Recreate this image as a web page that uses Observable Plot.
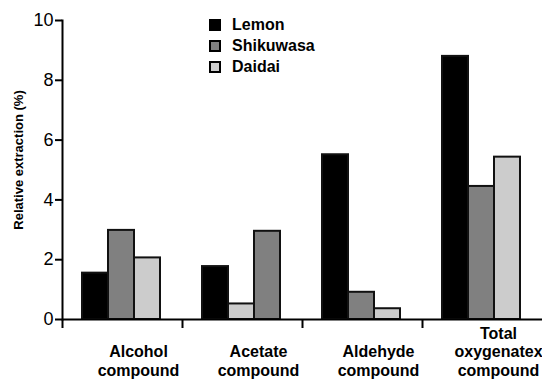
<!DOCTYPE html>
<html>
<head>
<meta charset="utf-8">
<script src="https://cdn.jsdelivr.net/npm/d3@7"></script>
<script src="https://cdn.jsdelivr.net/npm/@observablehq/plot@0.6"></script>
<style>
  html, body { margin: 0; padding: 0; background: #fff; }
  #wrap { position: relative; width: 542px; height: 379px; }
  #legend { position: absolute; left: 209px; top: 14px; font-family: "Liberation Sans", Arial, sans-serif; font-size: 16px; font-weight: bold; color: #000; }
  #legend .row { display: flex; align-items: center; height: 21px; }
  #legend .sw { width: 8px; height: 8px; border: 2px solid #000; margin-right: 11px; box-sizing: content-box; }
</style>
</head>
<body>
<div id="wrap"><div id="legend"></div></div>
<script>
// ---- data ----
const groups = ["Alcohol\ncompound", "Acetate\ncompound", "Aldehyde\ncompound", "Total\noxygenatex\ncompound"];
const series = ["Lemon", "Shikuwasa", "Daidai"];
const lemon     = [1.55, 1.77, 5.51, 8.80];
const shikuwasa = [2.98, 2.95, 0.91, 4.45];
const daidai    = [2.06, 0.52, 0.36, 5.43];
// order of the bars inside each group, as drawn in the original
const barOrder = [
  ["Lemon", "Shikuwasa", "Daidai"],
  ["Lemon", "Daidai", "Shikuwasa"],
  ["Lemon", "Shikuwasa", "Daidai"],
  ["Lemon", "Shikuwasa", "Daidai"]
];
const yTicks = [0, 2, 4, 6, 8, 10];
const colors = ["#000000", "#808080", "#cccccc"];

const values = {Lemon: lemon, Shikuwasa: shikuwasa, Daidai: daidai};
const rows = [];
groups.forEach((g, gi) => {
  series.forEach(s => {
    rows.push({group: g, series: s, slot: barOrder[gi].indexOf(s), value: values[s][gi]});
  });
});

const FONT = "'Liberation Sans', Arial, sans-serif";
const W = 542, H = 379, ML = 62, MR = 0, MT = 20, MB = 60;
const halfBand = (W - ML - MR) / groups.length / 2;

const chart = Plot.plot({
  width: W, height: H,
  marginLeft: ML, marginRight: MR, marginTop: MT, marginBottom: MB,
  style: {fontFamily: FONT, fontSize: "18px", color: "#000", background: "#fff"},
  fx: {domain: groups, paddingInner: 0, paddingOuter: 0, axis: null},
  x: {domain: [0, 1, 2], paddingInner: 0, paddingOuter: 0.76, align: 0.48, axis: null},
  y: {domain: [0, 10], ticks: yTicks, tickSize: 7, tickPadding: 2, label: null},
  color: {domain: series, range: colors},
  marks: [
    Plot.barY(rows, {fx: "group", x: "slot", y: "value", fill: "series", stroke: "#111", strokeWidth: 2}),
    Plot.ruleY([0], {stroke: "#000", strokeWidth: 2}),
    Plot.frame({anchor: "left", fx: () => groups[0], stroke: "#000", strokeWidth: 2}),
    Plot.axisY({ticks: yTicks, tickSize: 7, tickPadding: 2, strokeWidth: 2, label: null, fontFamily: FONT, fontSize: 18}),
    Plot.axisFx({anchor: "bottom", tickSize: 9, strokeWidth: 2, dx: -halfBand, tickFormat: () => "", label: null}),
    Plot.text(groups, {fx: d => d, text: d => d, frameAnchor: "bottom", lineAnchor: "bottom", dy: 56, dx: 16, lineHeight: 1.15, fontFamily: FONT, fontWeight: "bold", fontSize: 16}),
    Plot.text(["Relative extraction (%)"], {frameAnchor: "left", textAnchor: "middle", rotate: -90, dx: -44, dy: -10, fontFamily: FONT, fontWeight: "bold", fontSize: 13, fx: () => groups[0]})
  ]
});
const wrap = document.getElementById("wrap");
wrap.insertBefore(chart, wrap.firstChild);

const legend = document.getElementById("legend");
series.forEach((s, i) => {
  const row = document.createElement("div");
  row.className = "row";
  const sw = document.createElement("span");
  sw.className = "sw";
  sw.style.background = colors[i];
  const t = document.createElement("span");
  t.textContent = s;
  row.appendChild(sw); row.appendChild(t);
  legend.appendChild(row);
});
</script>
</body>
</html>
